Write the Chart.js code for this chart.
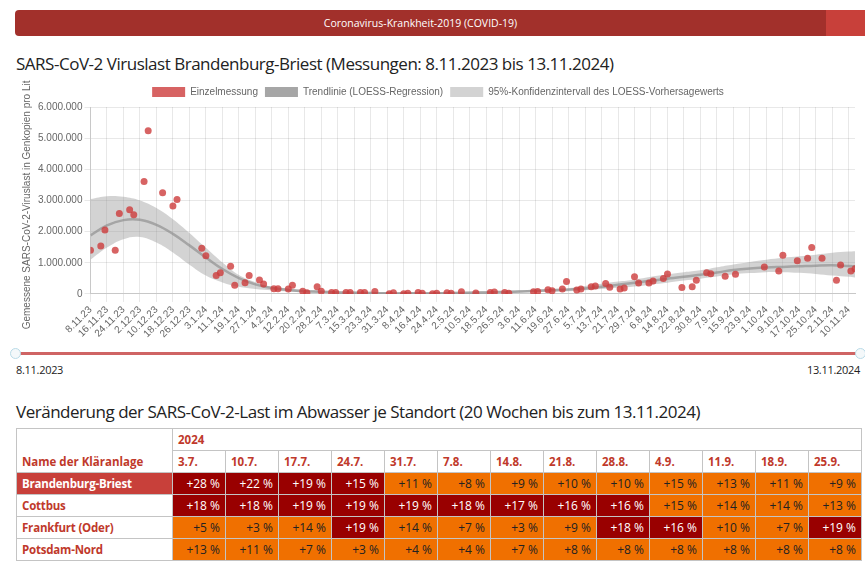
<!DOCTYPE html>
<html><head><meta charset="utf-8">
<script src="https://cdn.jsdelivr.net/npm/chart.js@4.4.1/dist/chart.umd.min.js"></script>
<style>
body{margin:0;width:865px;height:572px;overflow:hidden;background:#fff;font-family:"Open Sans",sans-serif;position:relative}
#bar{position:absolute;left:15px;top:10px;width:850px;height:26px;background:#a2302b;border-radius:4px 0 0 4px}
#bar .tip{position:absolute;right:0;top:0;width:39px;height:26px;background:#c8403a}
#bar .txt{position:absolute;left:0;width:811px;top:0;line-height:26px;text-align:center;color:#fff;font-size:10.5px}
h1,h2{position:absolute;left:16px;margin:0;font-weight:400;color:#222;font-size:17px;letter-spacing:-0.48px;white-space:nowrap}
h1{top:52px} h2{top:400px}
#cw{position:absolute;left:0;top:80px;width:865px;height:262px}
#slider{position:absolute;left:15px;top:352px;width:845px;height:3px;background:#cf6464}
.h{position:absolute;top:348px;width:9px;height:9px;border-radius:50%;border:1px solid #b9dbe8;background:#f4f8fa}
.sl{position:absolute;top:362px;font-size:11px;color:#222;letter-spacing:-0.3px}
table{position:absolute;left:16px;top:428px;border-collapse:collapse;font-size:12px}
td,th{border:1px solid #c4c4c4;padding:0 5px;height:21px;white-space:nowrap}
th{color:#c0392b;text-align:left;font-weight:700;font-size:11.5px}
td.n{font-weight:700;color:#c0392b;text-align:left;font-size:11.5px;letter-spacing:-0.2px}
td.sel{background:#c8403a;color:#fff}
td.v{text-align:right;width:42px}
td.hi{background:#990000;color:#fff}
td.mid{background:#f07000;color:#222}
</style></head><body>
<div id="bar"><div class="txt">Coronavirus-Krankheit-2019 (COVID-19)</div><div class="tip"></div></div>
<h1>SARS-CoV-2 Viruslast Brandenburg-Briest (Messungen: 8.11.2023 bis 13.11.2024)</h1>
<div id="cw"><canvas id="c"></canvas></div>
<div id="slider"></div>
<div class="h" style="left:10px"></div><div class="h" style="left:855px"></div>
<div class="sl" style="left:16px">8.11.2023</div>
<div class="sl" style="right:5px">13.11.2024</div>
<h2>Veränderung der SARS-CoV-2-Last im Abwasser je Standort (20 Wochen bis zum 13.11.2024)</h2>
<table id="t"></table>
<script>
// ---- chart data ----
const sampleDates = ['8.11.23','13.11.23','15.11.23','20.11.23','22.11.23','27.11.23','29.11.23','4.12.23','6.12.23','13.12.23','18.12.23','20.12.23',
 '1.1.24','3.1.24','8.1.24','10.1.24','15.1.24','17.1.24','22.1.24','24.1.24','29.1.24','31.1.24','5.2.24','7.2.24','12.2.24','14.2.24','19.2.24','21.2.24','26.2.24','28.2.24',
 '4.3.24','6.3.24','11.3.24','13.3.24','18.3.24','20.3.24','25.3.24','1.4.24','3.4.24','8.4.24','10.4.24','15.4.24','17.4.24','22.4.24','24.4.24','29.4.24','1.5.24',
 '6.5.24','13.5.24','20.5.24','22.5.24','27.5.24','29.5.24','10.6.24','12.6.24','17.6.24','19.6.24','24.6.24','26.6.24','1.7.24','3.7.24','8.7.24','10.7.24','15.7.24','17.7.24',
 '22.7.24','24.7.24','29.7.24','31.7.24','5.8.24','7.8.24','12.8.24','14.8.24','21.8.24','26.8.24','28.8.24','2.9.24','4.9.24','11.9.24','16.9.24','30.9.24','7.10.24','9.10.24',
 '16.10.24','21.10.24','23.10.24','28.10.24','4.11.24','6.11.24','11.11.24','13.11.24'];
const viralLoad = [1400000,1540000,2050000,1400000,2580000,2700000,2540000,3610000,5240000,3250000,2820000,3030000,
 1470000,1230000,590000,680000,890000,280000,360000,590000,450000,320000,170000,170000,160000,280000,90000,40000,230000,90000,
 50000,50000,50000,50000,50000,50000,80000,10000,40000,10000,20000,50000,20000,10000,20000,40000,20000,
 70000,30000,50000,60000,50000,20000,70000,80000,140000,100000,160000,400000,130000,160000,230000,260000,340000,220000,
 160000,190000,550000,350000,350000,420000,500000,640000,210000,230000,440000,680000,650000,570000,630000,870000,740000,1240000,
 1070000,1150000,1490000,1150000,440000,930000,740000,810000];
const tickLabels = ['8.11.23','16.11.23','24.11.23','2.12.23','10.12.23','18.12.23','26.12.23','3.1.24','11.1.24','19.1.24','27.1.24','4.2.24',
 '12.2.24','20.2.24','28.2.24','7.3.24','15.3.24','23.3.24','31.3.24','8.4.24','16.4.24','24.4.24','2.5.24','10.5.24','18.5.24','26.5.24',
 '3.6.24','11.6.24','19.6.24','27.6.24','5.7.24','13.7.24','21.7.24','29.7.24','6.8.24','14.8.24','22.8.24','30.8.24','7.9.24','15.9.24',
 '23.9.24','1.10.24','9.10.24','17.10.24','25.10.24','2.11.24','10.11.24'];
const trendDates = tickLabels.concat(['13.11.24']);
const trendValues = [1880000,2200000,2370000,2380000,2220000,1930000,1560000,1170000,800000,510000,310000,190000,
 130000,90000,70000,50000,40000,30000,20000,20000,20000,20000,30000,40000,50000,60000,80000,100000,120000,140000,
 180000,230000,300000,360000,430000,490000,550000,620000,690000,770000,820000,850000,870000,890000,910000,920000,900000,890000];
const ciUpper = [3050000,3140000,3120000,3000000,2760000,2400000,1960000,1480000,1010000,610000,380000,240000,
 180000,140000,110000,90000,80000,70000,60000,60000,60000,60000,70000,80000,90000,100000,120000,140000,160000,190000,
 260000,330000,400000,460000,550000,630000,700000,760000,860000,950000,1030000,1100000,1160000,1210000,1260000,1320000,1360000,1370000];
const ciLower = [1100000,1490000,1760000,1830000,1650000,1330000,940000,590000,370000,230000,160000,120000,
 80000,50000,30000,10000,0,0,0,0,0,0,0,0,10000,20000,40000,60000,70000,90000,
 120000,160000,200000,240000,300000,360000,430000,490000,560000,630000,670000,700000,700000,680000,640000,590000,550000,530000];

// ---- table data ----
const weeks = ['3.7.','10.7.','17.7.','24.7.','31.7.','7.8.','14.8.','21.8.','28.8.','4.9.','11.9.','18.9.','25.9.'];
const stations = ['Brandenburg-Briest','Cottbus','Frankfurt (Oder)','Potsdam-Nord'];
const changeBrandenburg = [28,22,19,15,11,8,9,10,10,15,13,11,9];
const changeCottbus = [18,18,19,19,19,18,17,16,16,15,14,14,13];
const changeFrankfurt = [5,3,14,19,14,7,3,9,18,16,10,7,19];
const changePotsdam = [13,11,7,3,4,4,7,8,8,8,8,8,8];
const levelBrandenburg = [1,1,1,1,0,0,0,0,0,0,0,0,0];
const levelCottbus = [1,1,1,1,1,1,1,1,1,0,0,0,0];
const levelFrankfurt = [0,0,0,1,0,0,0,0,1,1,0,0,1];
const levelPotsdam = [0,0,0,0,0,0,0,0,0,0,0,0,0];

const start = new Date(2023,10,8);
function dayOf(s){const [d,m,y]=s.split('.').map(Number);return Math.round((new Date(2000+y,m-1,d)-start)/86400000);}
const fmt = v => String(v).replace(/\B(?=(\d{3})+(?!\d))/g,'.');

const pts = sampleDates.map((s,i)=>({x:dayOf(s),y:viralLoad[i]}));
const tr = trendDates.map((s,i)=>({x:dayOf(s),y:trendValues[i]}));
const up = trendDates.map((s,i)=>({x:dayOf(s),y:ciUpper[i]}));
const lo = trendDates.map((s,i)=>({x:dayOf(s),y:ciLower[i]}));

Chart.defaults.font.family = 'Arial, "Liberation Sans", sans-serif';
Chart.defaults.font.size = 10;
Chart.defaults.color = '#666';

const defaultLabels = Chart.defaults.plugins.legend.labels.generateLabels;

new Chart(document.getElementById('c'),{
  type:'line',
  data:{datasets:[
    {label:'Einzelmessung',data:pts,showLine:false,pointRadius:3.5,pointHoverRadius:3.5,borderWidth:0,
     backgroundColor:'rgba(205,60,60,0.8)',borderColor:'rgba(205,60,60,0.8)',pointBorderWidth:0},
    {label:'Trendlinie (LOESS-Regression)',data:tr,pointRadius:0,borderWidth:2.5,tension:0.4,
     borderColor:'rgba(135,135,135,0.62)',backgroundColor:'#a6a6a6',fill:false},
    {label:'95%-Konfidenzintervall des LOESS-Vorhersagewerts',data:up,pointRadius:0,borderWidth:0,tension:0.4,
     borderColor:'rgba(0,0,0,0)',backgroundColor:'rgba(150,150,150,0.42)',fill:'+1'},
    {label:'ci-lower',data:lo,pointRadius:0,borderWidth:0,tension:0.4,borderColor:'rgba(0,0,0,0)',backgroundColor:'rgba(0,0,0,0)',fill:false}
  ]},
  options:{
    responsive:true,maintainAspectRatio:false,animation:false,
    layout:{padding:{left:21,right:10,top:0,bottom:0}},
    plugins:{
      legend:{position:'top',labels:{boxWidth:33,boxHeight:10,padding:7,color:'#666',font:{size:10},
        generateLabels:(chart)=>defaultLabels(chart).map(l=>Object.assign(l,{lineWidth:0,strokeStyle:'rgba(0,0,0,0)'})),
        filter:(it)=>it.text!=='ci-lower'}},
      tooltip:{enabled:false}
    },
    scales:{
      x:{type:'linear',min:0,max:371,
        grid:{color:'rgba(0,0,0,0.09)',tickLength:8},
        border:{color:'#c8c8c8'},
        ticks:{stepSize:8,includeBounds:false,autoSkip:false,minRotation:45,maxRotation:45,padding:2,color:'#666',
          callback:(v)=>tickLabels[v/8]||''}},
      y:{min:0,max:6000000,
        grid:{color:'rgba(0,0,0,0.09)',tickLength:6},
        border:{color:'#c8c8c8'},
        ticks:{stepSize:1000000,padding:2,color:'#666',callback:(v)=>fmt(v)},
        title:{display:true,text:'Gemessene SARS-CoV-2-Viruslast in Genkopien pro Liter',color:'#666',font:{size:10},padding:{top:0,bottom:3}}}
    }
  }
});

// table
const rows = [[changeBrandenburg,levelBrandenburg],[changeCottbus,levelCottbus],[changeFrankfurt,levelFrankfurt],[changePotsdam,levelPotsdam]];
let h = '<tr><th rowspan="2" style="vertical-align:bottom;padding-bottom:3px;width:145px">Name der Kläranlage</th><th colspan="'+weeks.length+'">2024</th></tr><tr>';
weeks.forEach(w=>h+='<th>'+w+'</th>');
h+='</tr>';
stations.forEach((s,i)=>{
  h+='<tr><td class="n'+(i===0?' sel':'')+'">'+s+'</td>';
  rows[i][0].forEach((v,j)=>{h+='<td class="v '+(rows[i][1][j]?'hi':'mid')+'">+'+v+'\u00a0%</td>';});
  h+='</tr>';
});
document.getElementById('t').innerHTML = h;
</script>
</body></html>
